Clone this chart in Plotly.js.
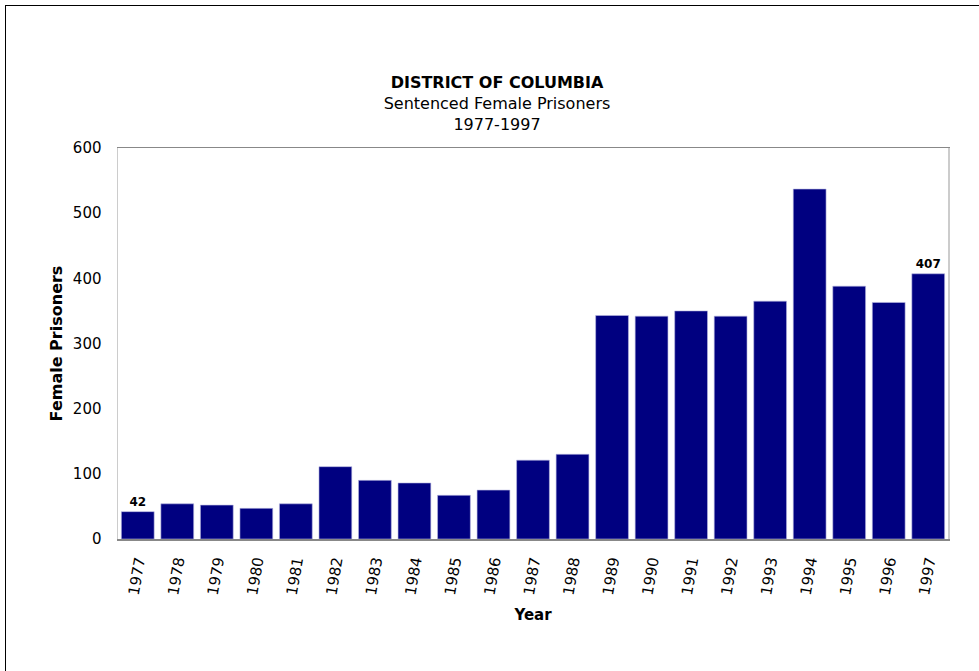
<!DOCTYPE html>
<html>
<head>
<meta charset="utf-8">
<script src="https://cdn.plot.ly/plotly-3.0.1.min.js"></script>
<style>
  html, body { margin: 0; padding: 0; background: #fff; overflow: hidden; }
  #frame { position: absolute; left: 5px; top: 5px; width: 2000px; height: 2000px; border: 1.5px solid #000; box-sizing: border-box; pointer-events: none; z-index: 5; }
  #chart { position: absolute; left: 0; top: 0; width: 979px; height: 671px; }
</style>
</head>
<body>
<div id="chart"></div>
<div id="frame"></div>
<script>
const years = ['1977','1978','1979','1980','1981','1982','1983','1984','1985','1986','1987',
               '1988','1989','1990','1991','1992','1993','1994','1995','1996','1997'];
const prisoners = [42, 54, 52, 47, 54, 111, 90, 86, 67, 75, 121,
                   130, 343, 342, 350, 342, 365, 537, 388, 363, 407];
const labelledIdx = [0, years.length - 1];
const yTicks = [0, 100, 200, 300, 400, 500, 600];

const barText = prisoners.map((v, i) => labelledIdx.includes(i) ? '<b>' + v + '</b>' : '');

const font = 'Verdana, "DejaVu Sans", sans-serif';

const trace = {
  type: 'bar',
  x: years,
  y: prisoners,
  text: barText,
  textposition: 'outside',
  cliponaxis: false,
  textfont: { family: font, size: 12, color: '#000' },
  marker: { color: '#000080', line: { color: '#b8b8e0', width: 0.6 } },
  hoverinfo: 'x+y'
};

const layout = {
  width: 979,
  height: 671,
  margin: { l: 118, r: 31, t: 148, b: 132 },
  paper_bgcolor: '#fff',
  plot_bgcolor: '#fff',
  showlegend: false,
  bargap: 0.17,
  font: { family: font, color: '#000' },
  title: {
    text: '<b>DISTRICT OF COLUMBIA</b><br>Sentenced Female Prisoners<br>1977-1997',
    font: { family: font, size: 16, color: '#000' },
    x: 497 / 979, xanchor: 'center', xref: 'container',
    y: 1 - 88 / 671, yanchor: 'top', yref: 'container'
  },
  xaxis: {
    type: 'category',
    tickangle: -80,
    tickfont: { family: font, size: 15, color: '#000' },
    showgrid: false,
    showline: true,
    linecolor: '#888',
    linewidth: 1.5,
    mirror: true,
    ticks: '',
    ticklabelstandoff: 6,
    title: { text: '<b>Year</b>', font: { family: font, size: 15, color: '#000' }, standoff: 14 }
  },
  yaxis: {
    range: [0, 600],
    tickvals: yTicks,
    tickfont: { family: font, size: 15, color: '#000' },
    showgrid: false,
    zeroline: false,
    showline: true,
    linecolor: '#ccc',
    linewidth: 1.5,
    mirror: true,
    ticks: '',
    ticklabelstandoff: 12,
    title: { text: '<b>Female Prisoners</b>', font: { family: font, size: 16, color: '#000' }, standoff: 6 }
  }
};

Plotly.newPlot('chart', [trace], layout, { displayModeBar: false, staticPlot: true });
</script>
</body>
</html>
